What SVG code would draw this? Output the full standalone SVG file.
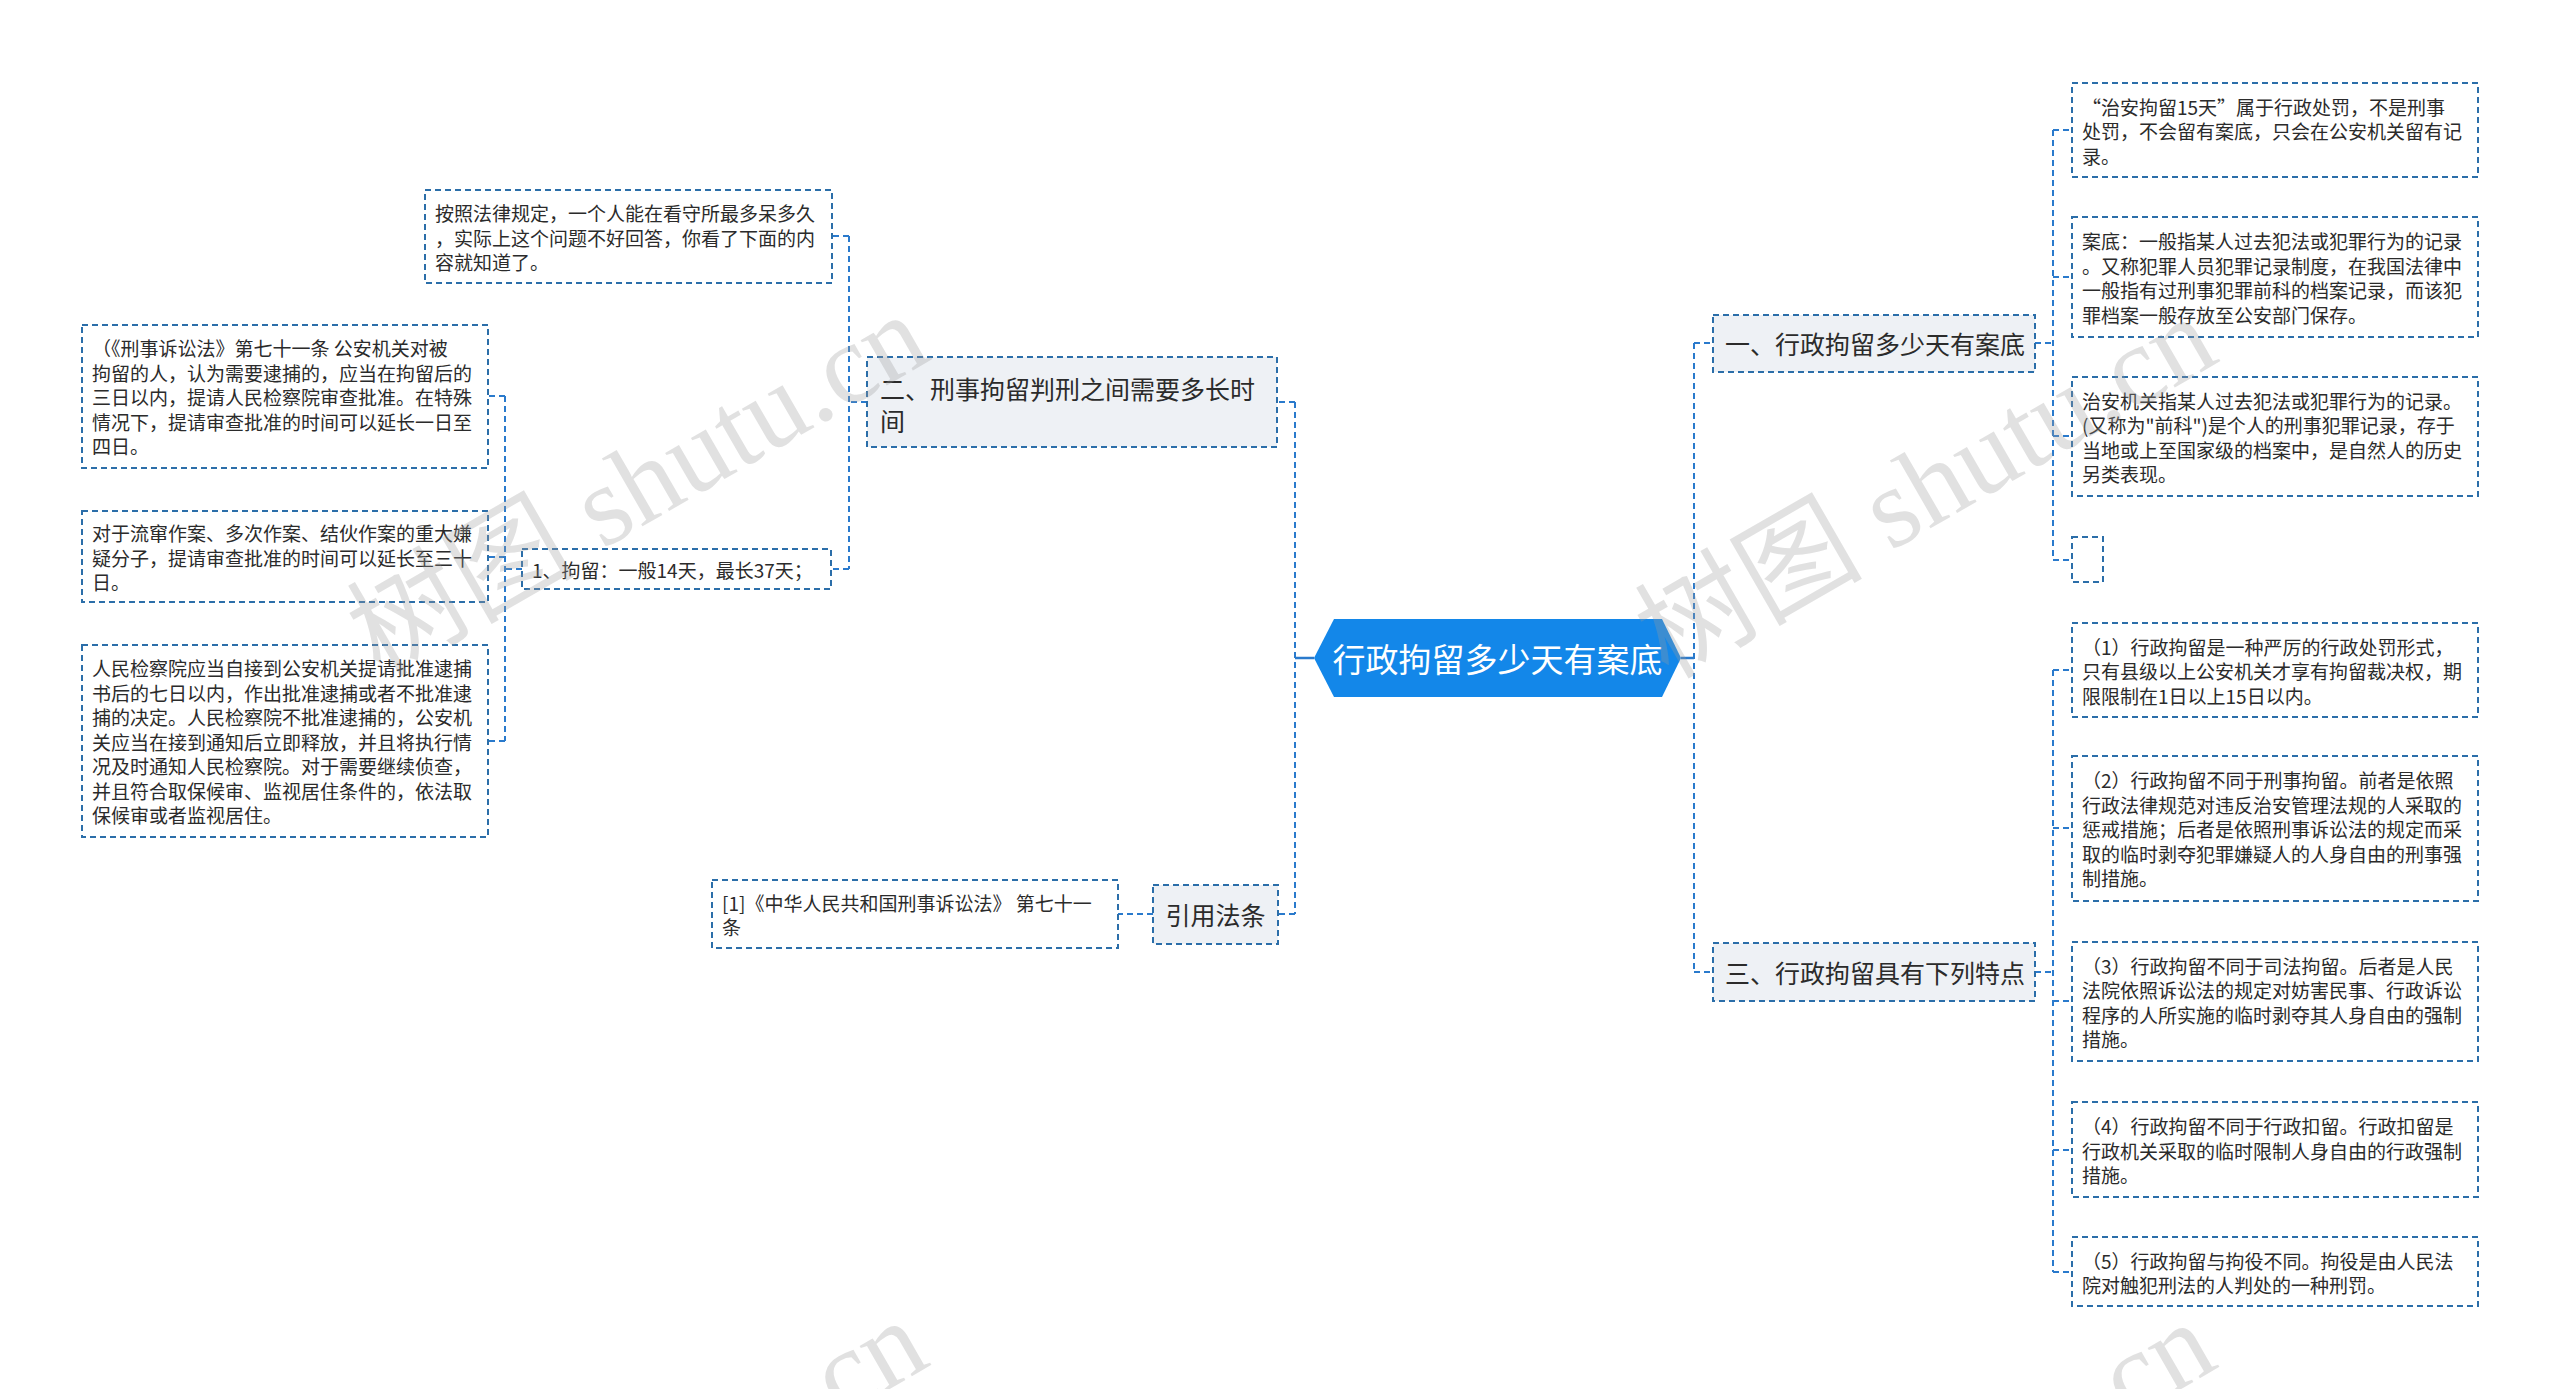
<svg xmlns="http://www.w3.org/2000/svg" width="2560" height="1389" viewBox="0 0 2560 1389">
<defs>
<style>
.leaf{fill:#ffffff;stroke:#2b6ea9;stroke-width:2;stroke-dasharray:6 4}
.l1{fill:#eef1f5;stroke:#2b6ea9;stroke-width:2;stroke-dasharray:6 4}
.conn{fill:none;stroke:#2a7acc;stroke-width:2;stroke-dasharray:6 4}
.solid{fill:none;stroke:#2a7acc;stroke-width:2.5}
.t19{font-family:"Noto Sans CJK SC","Liberation Sans",sans-serif;font-size:19px;fill:#2b2b2b;dominant-baseline:central}
.t25{font-family:"Noto Sans CJK SC","Liberation Sans",sans-serif;font-size:25px;fill:#2b2b2b;dominant-baseline:central}
.wm{font-family:"Liberation Serif","Noto Sans CJK SC",serif;font-size:114px;fill:#9a9a9a;fill-opacity:0.3}
</style>
</defs>
<rect x="0" y="0" width="2560" height="1389" fill="#ffffff"/>

<g id="connectors">
<path class="solid" d="M1314 658 H1295"/>
<path class="solid" d="M1681 658 H1694"/>
<path class="conn" d="M1295 402 V914 M1295 402 H1277 M1295 914 H1278"/>
<path class="conn" d="M1694 343 V972 M1694 343 H1713 M1694 972 H1713"/>
<path class="conn" d="M867 402 H849 M849 236 V569 M849 236 H832 M849 569 H831"/>
<path class="conn" d="M522 569 H505 M505 396 V741 M505 396 H488 M505 557 H488 M505 741 H488"/>
<path class="conn" d="M1153 914 H1118"/>
<path class="conn" d="M2035 343 H2053 M2053 130 V560 M2053 130 H2072 M2053 277 H2072 M2053 436 H2072 M2053 560 H2072"/>
<path class="conn" d="M2035 972 H2053 M2053 670 V1272 M2053 670 H2072 M2053 828 H2072 M2053 1001 H2072 M2053 1150 H2072 M2053 1272 H2072"/>
</g>

<g id="center">
<polygon points="1314,658 1334,619 1662,619 1681,658 1662,697 1334,697" fill="#1387e9"/>
<text x="1497.5" y="658" text-anchor="middle" style="font-family:'Noto Sans CJK SC','Liberation Sans',sans-serif;font-size:33px;fill:#ffffff;dominant-baseline:central">行政拘留多少天有案底</text>
</g>

<g id="n-yi">
<rect class="l1" x="1713" y="315" width="322" height="57"/>
<text class="t25" x="1725" y="343">一、行政拘留多少天有案底</text>
</g>

<g id="n-san">
<rect class="l1" x="1713" y="943" width="322" height="58"/>
<text class="t25" x="1725" y="972">三、行政拘留具有下列特点</text>
</g>

<g id="n-er">
<rect class="l1" x="867" y="357" width="410" height="90"/>
<text class="t25" x="880" y="388">二、刑事拘留判刑之间需要多长时</text>
<text class="t25" x="880" y="420">间</text>
</g>

<g id="n-yinyong">
<rect class="l1" x="1153" y="885" width="125" height="59"/>
<text class="t25" x="1215.5" y="914" text-anchor="middle">引用法条</text>
</g>

<g id="leaf-citation">
<rect class="leaf" x="712" y="880" width="406" height="68"/>
<text class="t19" x="722" y="902">[1]《中华人民共和国刑事诉讼法》 第七十一</text>
<text class="t19" x="722" y="926">条</text>
</g>

<g id="leaf-intro">
<rect class="leaf" x="425" y="190" width="407" height="93"/>
<text class="t19" x="435" y="212">按照法律规定，一个人能在看守所最多呆多久</text>
<text class="t19" x="435" y="237">，实际上这个问题不好回答，你看了下面的内</text>
<text class="t19" x="435" y="261">容就知道了。</text>
</g>

<g id="leaf-juliu">
<rect class="leaf" x="522" y="549" width="309" height="40"/>
<text class="t19" x="532" y="569">1、拘留：一般14天，最长37天；</text>
</g>

<g id="leaf-l1">
<rect class="leaf" x="82" y="325" width="406" height="143"/>
<text class="t19" x="92" y="347">（《刑事诉讼法》第七十一条 公安机关对被</text>
<text class="t19" x="92" y="372">拘留的人，认为需要逮捕的，应当在拘留后的</text>
<text class="t19" x="92" y="396">三日以内，提请人民检察院审查批准。在特殊</text>
<text class="t19" x="92" y="421">情况下，提请审查批准的时间可以延长一日至</text>
<text class="t19" x="92" y="445">四日。</text>
</g>

<g id="leaf-l2">
<rect class="leaf" x="82" y="511" width="406" height="91"/>
<text class="t19" x="92" y="532">对于流窜作案、多次作案、结伙作案的重大嫌</text>
<text class="t19" x="92" y="557">疑分子，提请审查批准的时间可以延长至三十</text>
<text class="t19" x="92" y="581">日。</text>
</g>

<g id="leaf-l3">
<rect class="leaf" x="82" y="645" width="406" height="192"/>
<text class="t19" x="92" y="667">人民检察院应当自接到公安机关提请批准逮捕</text>
<text class="t19" x="92" y="692">书后的七日以内，作出批准逮捕或者不批准逮</text>
<text class="t19" x="92" y="716">捕的决定。人民检察院不批准逮捕的，公安机</text>
<text class="t19" x="92" y="741">关应当在接到通知后立即释放，并且将执行情</text>
<text class="t19" x="92" y="765">况及时通知人民检察院。对于需要继续侦查，</text>
<text class="t19" x="92" y="790">并且符合取保候审、监视居住条件的，依法取</text>
<text class="t19" x="92" y="814">保候审或者监视居住。</text>
</g>

<g id="leaf-r1">
<rect class="leaf" x="2072" y="83" width="406" height="94"/>
<text class="t19" x="2082" y="106">“治安拘留15天”属于行政处罚，不是刑事</text>
<text class="t19" x="2082" y="130">处罚，不会留有案底，只会在公安机关留有记</text>
<text class="t19" x="2082" y="155">录。</text>
</g>

<g id="leaf-r2">
<rect class="leaf" x="2072" y="217" width="406" height="120"/>
<text class="t19" x="2082" y="240">案底：一般指某人过去犯法或犯罪行为的记录</text>
<text class="t19" x="2082" y="265">。又称犯罪人员犯罪记录制度，在我国法律中</text>
<text class="t19" x="2082" y="289">一般指有过刑事犯罪前科的档案记录，而该犯</text>
<text class="t19" x="2082" y="314">罪档案一般存放至公安部门保存。</text>
</g>

<g id="leaf-r3">
<rect class="leaf" x="2072" y="377" width="406" height="119"/>
<text class="t19" x="2082" y="400">治安机关指某人过去犯法或犯罪行为的记录。</text>
<text class="t19" x="2082" y="424">(又称为"前科")是个人的刑事犯罪记录，存于</text>
<text class="t19" x="2082" y="449">当地或上至国家级的档案中，是自然人的历史</text>
<text class="t19" x="2082" y="473">另类表现。</text>
</g>

<g id="leaf-r4">
<rect class="leaf" x="2072" y="537" width="31" height="45"/>
</g>

<g id="leaf-r5">
<rect class="leaf" x="2072" y="623" width="406" height="94"/>
<text class="t19" x="2082" y="646">（1）行政拘留是一种严厉的行政处罚形式，</text>
<text class="t19" x="2082" y="670">只有县级以上公安机关才享有拘留裁决权，期</text>
<text class="t19" x="2082" y="695">限限制在1日以上15日以内。</text>
</g>

<g id="leaf-r6">
<rect class="leaf" x="2072" y="756" width="406" height="145"/>
<text class="t19" x="2082" y="779">（2）行政拘留不同于刑事拘留。前者是依照</text>
<text class="t19" x="2082" y="804">行政法律规范对违反治安管理法规的人采取的</text>
<text class="t19" x="2082" y="828">惩戒措施；后者是依照刑事诉讼法的规定而采</text>
<text class="t19" x="2082" y="853">取的临时剥夺犯罪嫌疑人的人身自由的刑事强</text>
<text class="t19" x="2082" y="877">制措施。</text>
</g>

<g id="leaf-r7">
<rect class="leaf" x="2072" y="942" width="406" height="119"/>
<text class="t19" x="2082" y="965">（3）行政拘留不同于司法拘留。后者是人民</text>
<text class="t19" x="2082" y="989">法院依照诉讼法的规定对妨害民事、行政诉讼</text>
<text class="t19" x="2082" y="1014">程序的人所实施的临时剥夺其人身自由的强制</text>
<text class="t19" x="2082" y="1038">措施。</text>
</g>

<g id="leaf-r8">
<rect class="leaf" x="2072" y="1102" width="406" height="95"/>
<text class="t19" x="2082" y="1125">（4）行政拘留不同于行政扣留。行政扣留是</text>
<text class="t19" x="2082" y="1150">行政机关采取的临时限制人身自由的行政强制</text>
<text class="t19" x="2082" y="1174">措施。</text>
</g>

<g id="leaf-r9">
<rect class="leaf" x="2072" y="1237" width="406" height="69"/>
<text class="t19" x="2082" y="1260">（5）行政拘留与拘役不同。拘役是由人民法</text>
<text class="t19" x="2082" y="1284">院对触犯刑法的人判处的一种刑罚。</text>
</g>

<g id="watermarks">
<text class="wm" transform="translate(380,678) rotate(-30)">树图 shutu.cn</text>
<text class="wm" transform="translate(1668,680) rotate(-30)">树图 shutu.cn</text>
<text class="wm" transform="translate(815,1432) rotate(-30)">.cn</text>
<text class="wm" transform="translate(2103,1434) rotate(-30)">.cn</text>
</g>
</svg>
